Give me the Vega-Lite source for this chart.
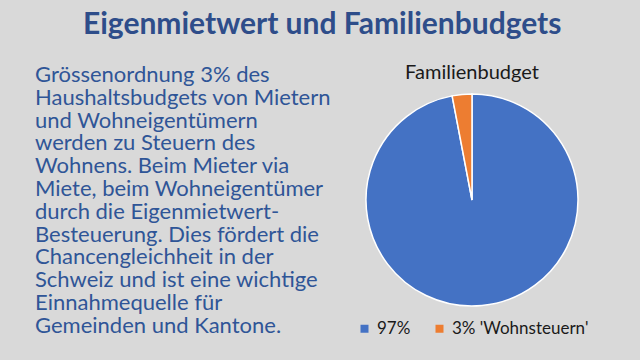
{
  "$schema": "https://vega.github.io/schema/vega-lite/v6.json",
  "background": "#D9D9D9",
  "padding": {"left": 35, "top": 10, "right": 62, "bottom": 30},
  "title": {
    "text": "Eigenmietwert und Familienbudgets",
    "font": "Lato",
    "fontSize": 30,
    "fontWeight": "bold",
    "color": "#2E4D8A",
    "anchor": "start",
    "dx": 48,
    "offset": 23
  },
  "spacing": 21,
  "resolve": {"legend": {"color": "independent"}, "scale": {"color": "independent"}},
  "hconcat": [
    {
      "width": 300,
      "height": 250.8,
      "data": {"values": [
        {"line": 1, "text": "Grössenordnung 3% des"},
        {"line": 2, "text": "Haushaltsbudgets von Mietern"},
        {"line": 3, "text": "und Wohneigentümern"},
        {"line": 4, "text": "werden zu Steuern des"},
        {"line": 5, "text": "Wohnens. Beim Mieter via"},
        {"line": 6, "text": "Miete, beim Wohneigentümer"},
        {"line": 7, "text": "durch die Eigenmietwert-"},
        {"line": 8, "text": "Besteuerung. Dies fördert die"},
        {"line": 9, "text": "Chancengleichheit in der"},
        {"line": 10, "text": "Schweiz und ist eine wichtige"},
        {"line": 11, "text": "Einnahmequelle für"},
        {"line": 12, "text": "Gemeinden und Kantone."}
      ]},
      "mark": {"type": "text", "align": "left", "baseline": "alphabetic", "font": "Lato", "fontSize": 22, "color": "#2F5597"},
      "encoding": {
        "y": {"field": "line", "type": "quantitative", "axis": null, "scale": {"domain": [1, 12], "reverse": true, "nice": false, "zero": false}},
        "x": {"value": 0},
        "text": {"field": "text"}
      }
    },
    {
      "width": 212,
      "height": 236,
      "title": {"text": "Familienbudget", "font": "Lato", "fontSize": 20, "fontWeight": "normal", "color": "#1A1A1A", "offset": -1},
      "data": {"values": [
        {"idx": 1, "label": "97%", "value": 97},
        {"idx": 2, "label": "3% 'Wohnsteuern'", "value": 3}
      ]},
      "mark": {"type": "arc", "outerRadius": 106, "stroke": "white", "strokeWidth": 1.5},
      "encoding": {
        "theta": {"field": "value", "type": "quantitative", "stack": true},
        "order": {"field": "idx"},
        "color": {
          "field": "label",
          "type": "nominal",
          "sort": null,
          "scale": {"domain": ["97%", "3% 'Wohnsteuern'"], "range": ["#4472C4", "#ED7D31"]},
          "legend": {"orient": "bottom", "direction": "horizontal", "title": null, "symbolType": "square", "symbolSize": 64, "symbolStrokeWidth": 0, "labelFont": "Lato", "labelFontSize": 17, "labelColor": "#1A1A1A", "columnPadding": 20, "offset": 2}
        }
      }
    }
  ],
  "config": {"view": {"stroke": null}, "legend": {"layout": {"anchor": "middle"}}}
}
